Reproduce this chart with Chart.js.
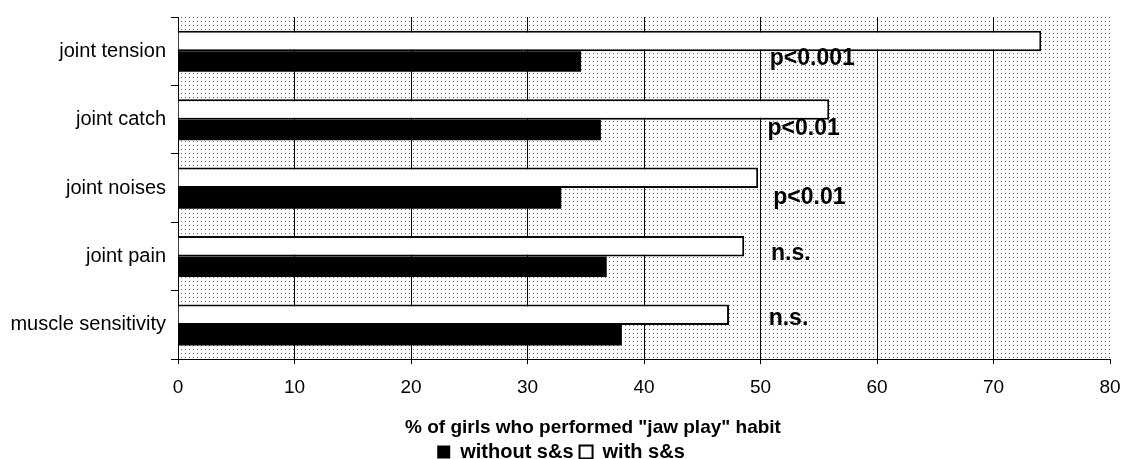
<!DOCTYPE html>
<html>
<head>
<meta charset="utf-8">
<script src="https://cdn.jsdelivr.net/npm/chart.js@4"></script>
<style>
  html, body { margin: 0; padding: 0; background: #fff; }
</style>
</head>
<body>
<canvas id="bar-chart" width="1122" height="459"></canvas>
<script>
var categories = ['joint tension', 'joint catch', 'joint noises', 'joint pain', 'muscle sensitivity'];
var withSS = [74.1, 55.9, 49.8, 48.6, 47.3];
var withoutSS = [34.6, 36.3, 32.9, 36.8, 38.1];
var pValues = ['p<0.001', 'p<0.01', 'p<0.01', 'n.s.', 'n.s.'];
var xMin = 0, xMax = 80, xStep = 10;

var FONT = '"Liberation Sans", Arial, sans-serif';

// dotted grey fill behind the plot, like the old spreadsheet pattern
var dotBackground = {
    id: 'dotBackground',
    beforeDraw: function (chart) {
        var a = chart.chartArea, ctx = chart.ctx;
        var tile = document.createElement('canvas');
        tile.width = 4; tile.height = 4;
        var t = tile.getContext('2d');
        t.fillStyle = '#6a6a6a';
        t.fillRect(1, 1, 1, 1);
        ctx.save();
        ctx.fillStyle = ctx.createPattern(tile, 'repeat');
        ctx.fillRect(a.left, a.top, a.right - a.left, a.bottom - a.top);
        ctx.restore();
    }
};

// significance text next to each pair of bars
var sigLabels = {
    id: 'sigLabels',
    afterDatasetsDraw: function (chart, args, opts) {
        var x = chart.scales.x, y = chart.scales.y, ctx = chart.ctx;
        ctx.save();
        ctx.font = 'bold 23px ' + FONT;
        ctx.fillStyle = '#000';
        ctx.textBaseline = 'alphabetic';
        pValues.forEach(function (txt, i) {
            ctx.fillText(txt, x.getPixelForValue(opts.at[i]), y.getPixelForValue(i) + opts.dy[i]);
        });
        ctx.restore();
    }
};

// title / legend are centred a bit differently in the original
var shiftBoxes = {
    id: 'shiftBoxes',
    afterLayout: function (chart) {
        chart.titleBlock.left = 64;
        chart.titleBlock.right = chart.width;
        chart.legend.left = 0;
        chart.legend.right = chart.width;
        chart.legend.top -= 3;
        chart.legend.bottom -= 3;
    }
};

var ctx = document.getElementById('bar-chart').getContext('2d');
var myChart = new Chart(ctx, {
    type: 'bar',
    data: {
        labels: categories,
        datasets: [{
            label: 'with s&s',
            data: withSS,
            backgroundColor: '#fff',
            borderColor: '#000',
            borderWidth: 2
        }, {
            label: 'without s&s',
            data: withoutSS,
            backgroundColor: '#000',
            borderColor: '#000',
            borderWidth: 0
        }]
    },
    options: {
        indexAxis: 'y',
        responsive: false,
        animation: false,
        layout: { padding: { top: 15, right: 1, left: 0, bottom: -16 } },
        datasets: { bar: { categoryPercentage: 0.6, barPercentage: 1.0 } },
        scales: {
            x: {
                min: xMin, max: xMax,
                afterFit: function (s) { s.height = 36; s.paddingRight = 12; },
                ticks: { stepSize: xStep, color: '#000', padding: 12, font: { family: FONT, size: 19 } },
                grid: {
                    color: function (c) { return c.tick && c.tick.value === xMax ? 'rgba(0,0,0,0)' : '#000'; },
                    tickColor: '#000',
                    tickLength: 5,
                    lineWidth: 1
                },
                border: { color: '#000', width: 1 }
            },
            y: {
                afterFit: function (s) { s.width = 178; },
                ticks: { color: '#000', padding: 5, font: { family: FONT, size: 20 } },
                grid: { offset: true, drawOnChartArea: false, tickLength: 7, color: '#000' },
                border: { color: '#000', width: 1 }
            }
        },
        plugins: {
            tooltip: { enabled: false },
            title: {
                display: true,
                position: 'bottom',
                weight: 500,
                text: '% of girls who performed "jaw play" habit',
                color: '#000',
                font: { family: FONT, size: 19, weight: 'bold' },
                padding: { top: 21, bottom: 0 }
            },
            legend: {
                position: 'bottom',
                reverse: true,
                labels: {
                    color: '#000',
                    boxWidth: 13,
                    boxHeight: 13,
                    padding: 6,
                    font: { family: FONT, size: 20, weight: 'bold' }
                }
            },
            sigLabels: { at: [50.8, 50.6, 51.1, 50.9, 50.7], dy: [14, 15, 16, 3, 0] }
        }
    },
    plugins: [dotBackground, sigLabels, shiftBoxes]
});
</script>
</body>
</html>
